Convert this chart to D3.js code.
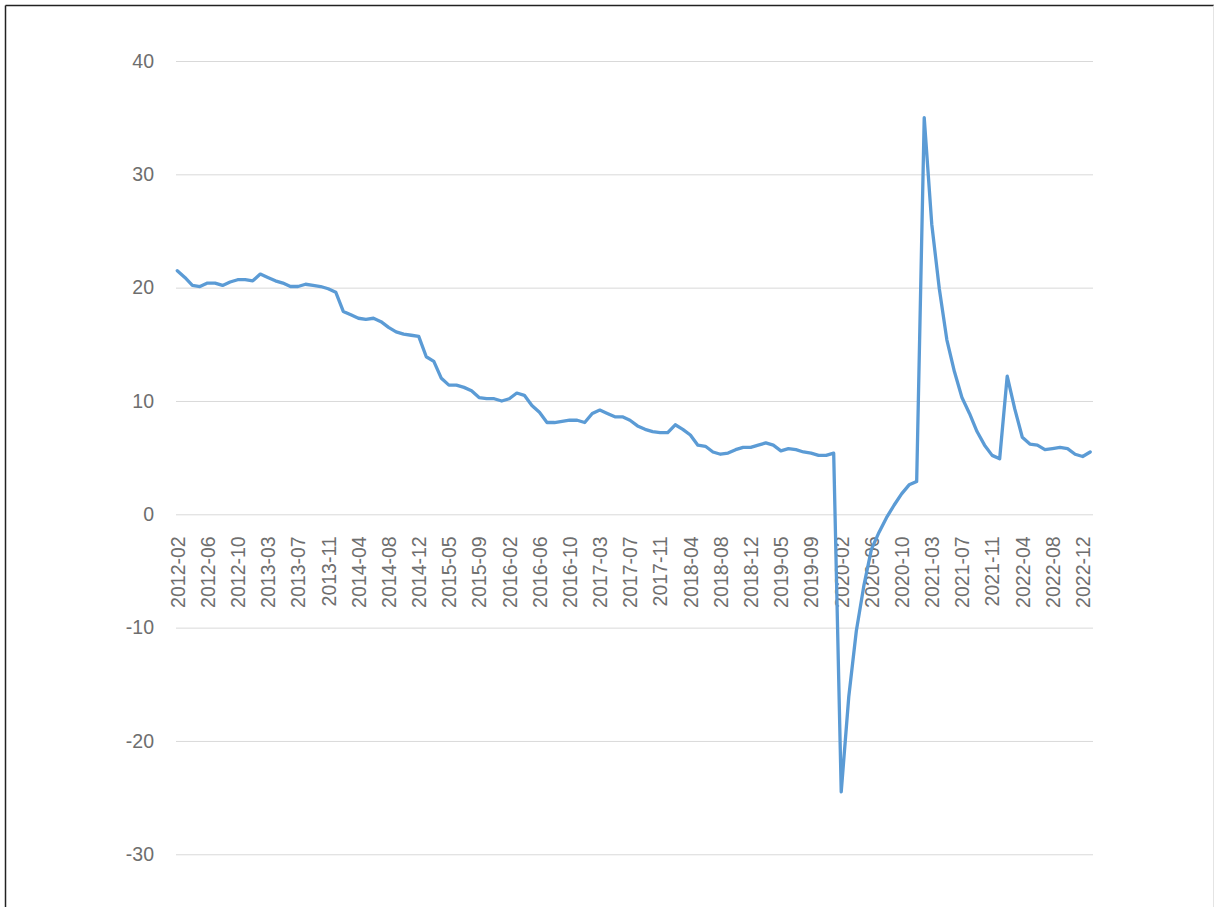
<!DOCTYPE html>
<html>
<head>
<meta charset="utf-8">
<script src="https://cdn.jsdelivr.net/npm/d3@7/dist/d3.min.js"></script>
<style>
  html, body { margin: 0; padding: 0; background: #fff; }
  svg { display: block; }
  .axis text { font-family: "Liberation Sans", Arial, sans-serif; font-size: 19.5px; fill: #6e6e6e; }
</style>
</head>
<body>
<svg id="chart" width="1215" height="907"></svg>
<script>
// Monthly periods (January is folded into February each year)
const years = [2012, 2013, 2014, 2015, 2016, 2017, 2018, 2019, 2020, 2021, 2022];
const months = ["02", "03", "04", "05", "06", "07", "08", "09", "10", "11", "12"];
const categories = years.flatMap(y => months.map(m => `${y}-${m}`)).concat(["2023-02"]);

// Cumulative year-on-year growth, %
const values = [
  21.5, 20.9, 20.2, 20.1, 20.4, 20.4, 20.2, 20.5, 20.7, 20.7, 20.6,
  21.2, 20.9, 20.6, 20.4, 20.1, 20.1, 20.3, 20.2, 20.1, 19.9, 19.6,
  17.9, 17.6, 17.3, 17.2, 17.3, 17.0, 16.5, 16.1, 15.9, 15.8, 15.7,
  13.9, 13.5, 12.0, 11.4, 11.4, 11.2, 10.9, 10.3, 10.2, 10.2, 10.0,
  10.2, 10.7, 10.5, 9.6, 9.0, 8.1, 8.1, 8.2, 8.3, 8.3, 8.1,
  8.9, 9.2, 8.9, 8.6, 8.6, 8.3, 7.8, 7.5, 7.3, 7.2, 7.2,
  7.9, 7.5, 7.0, 6.1, 6.0, 5.5, 5.3, 5.4, 5.7, 5.9, 5.9,
  6.1, 6.3, 6.1, 5.6, 5.8, 5.7, 5.5, 5.4, 5.2, 5.2, 5.4,
  -24.5, -16.1, -10.3, -6.3, -3.1, -1.6, -0.3, 0.8, 1.8, 2.6, 2.9,
  35.0, 25.6, 19.9, 15.4, 12.6, 10.3, 8.9, 7.3, 6.1, 5.2, 4.9,
  12.2, 9.3, 6.8, 6.2, 6.1, 5.7, 5.8, 5.9, 5.8, 5.3, 5.1,
  5.5
];

// Axis ticks
const yTicks = [-30, -20, -10, 0, 10, 20, 30, 40];
const xTickLabels = categories.filter((c, i) => i % 4 === 0 && i <= 120);

const svg = d3.select("#chart");

// Frame
svg.append("line").attr("x1", 5.5).attr("y1", 5.5).attr("x2", 5.5).attr("y2", 907)
  .attr("stroke", "#222").attr("stroke-width", 1.5);
svg.append("line").attr("x1", 5.5).attr("y1", 5.5).attr("x2", 1214).attr("y2", 5.5)
  .attr("stroke", "#222").attr("stroke-width", 1.5);
svg.append("line").attr("x1", 1213.5).attr("y1", 5.5).attr("x2", 1213.5).attr("y2", 907)
  .attr("stroke", "#e4e4e4").attr("stroke-width", 1);

const plotLeft = 176, plotRight = 1093;

const y = d3.scaleLinear().domain([0, 40]).range([514.3, 61]);
const x = d3.scalePoint().domain(categories).range([177.3, 1090.2]);

// Y axis with horizontal gridlines
const yAxis = svg.append("g")
  .attr("class", "axis")
  .attr("transform", `translate(${plotLeft},0)`)
  .call(d3.axisLeft(y)
    .tickValues(yTicks)
    .tickSize(-(plotRight - plotLeft))
    .tickPadding(22)
    .tickFormat(d => String(d)));
yAxis.select(".domain").remove();
yAxis.selectAll("line").attr("stroke", "#d9d9d9").attr("stroke-width", 1);

// X axis category labels, rotated
const xAxis = svg.append("g")
  .attr("class", "axis")
  .attr("transform", `translate(0,${y(0)})`)
  .call(d3.axisBottom(x).tickValues(xTickLabels).tickSize(0));
xAxis.select(".domain").remove();
xAxis.selectAll("text")
  .attr("transform", "rotate(-90)")
  .attr("text-anchor", "end")
  .attr("x", -22)
  .attr("y", 0)
  .attr("dy", "0.35em");

// Series line
const line = d3.line()
  .x((d, i) => x(categories[i]))
  .y(d => y(d));

svg.append("path")
  .datum(values)
  .attr("fill", "none")
  .attr("stroke", "#5b9bd5")
  .attr("stroke-width", 3.3)
  .attr("stroke-linejoin", "round")
  .attr("stroke-linecap", "round")
  .attr("d", line);
</script>
</body>
</html>
